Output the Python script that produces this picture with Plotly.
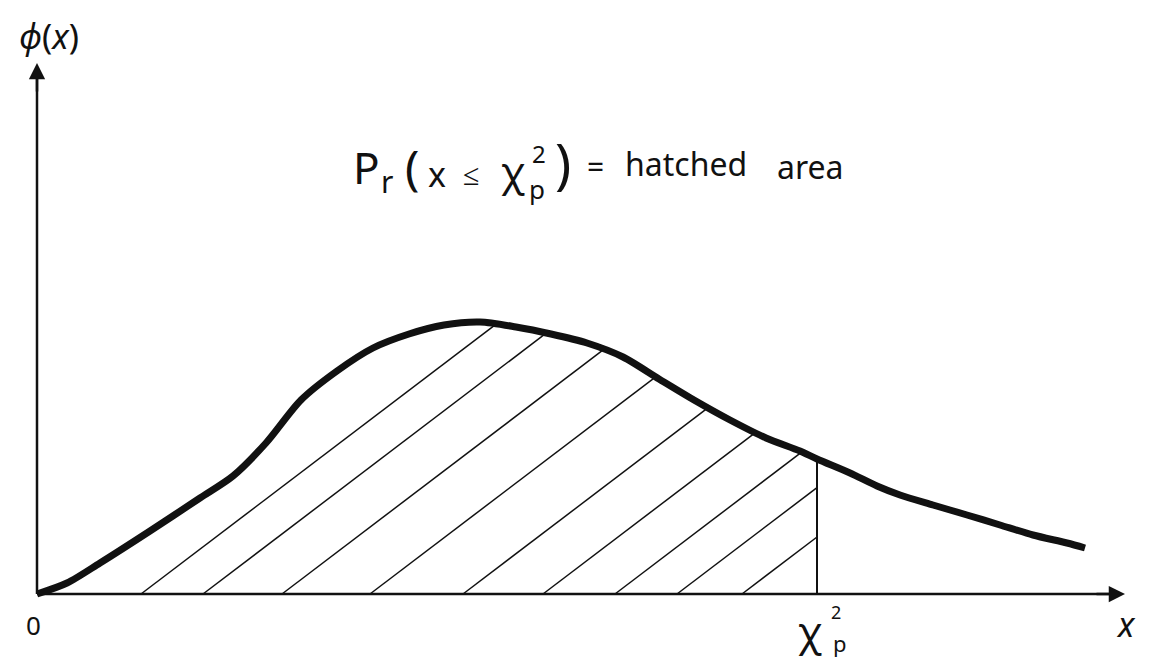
import numpy as np
import plotly.graph_objects as go

# curve phi(x) (arbitrary units)
curve_x = [0.00, 0.30, 0.63, 1.13, 1.63, 1.96, 2.29, 2.64, 3.00, 3.36, 3.72, 4.07, 4.43,
           4.79, 5.14, 5.50, 5.86, 6.22, 6.57, 6.93, 7.29, 7.63, 7.80, 8.13, 8.40, 8.63,
           8.96, 9.30, 9.63, 9.96, 10.30, 10.48]
curve_y = [0.00, 0.11, 0.31, 0.63, 0.96, 1.18, 1.51, 1.94, 2.23, 2.46, 2.60, 2.69, 2.72,
           2.67, 2.60, 2.51, 2.37, 2.15, 1.94, 1.74, 1.56, 1.43, 1.35, 1.21, 1.08, 0.99,
           0.89, 0.79, 0.69, 0.59, 0.51, 0.46]

chi2_p = 7.80
hatch_starts = [1.04, 1.66, 2.45, 3.33, 4.26, 5.06, 5.78, 6.40, 7.05]
hatch_slope = 0.76

x_axis_end = 10.88
y_axis_end = 5.31

ink = "#111111"
font = "Noto Sans"

# the page body has an 8px margin, so the figure is drawn 8px in from the corner
W, H = 1135, 653
PAD = 8
X0, Y0, SCALE = 37, 594, 100.0   # page pixel of the origin, pixels per unit


def at(px, py):
    return (px - X0) / SCALE, (Y0 - py) / SCALE


fig = go.Figure()

# hatch lines: from the baseline up to the curve, cut at chi2_p
xx = np.linspace(0, chi2_p, 4000)
yy = np.interp(xx, curve_x, curve_y)
hx, hy = [], []
for s in hatch_starts:
    line = hatch_slope * (xx - s)
    hit = np.where((xx > s) & (line >= yy))[0]
    xe = xx[hit[0]] if len(hit) else chi2_p
    hx += [s, xe, None]
    hy += [0, hatch_slope * (xe - s), None]
fig.add_trace(go.Scatter(x=hx, y=hy, mode="lines",
                         line=dict(color=ink, width=1.5), hoverinfo="skip"))

# vertical line at chi2_p
fig.add_trace(go.Scatter(x=[chi2_p, chi2_p], y=[0, float(np.interp(chi2_p, curve_x, curve_y))],
                         mode="lines", line=dict(color=ink, width=2), hoverinfo="skip"))

# axes
fig.add_trace(go.Scatter(x=[0, x_axis_end - 0.05], y=[0, 0], mode="lines",
                         line=dict(color=ink, width=2.5), hoverinfo="skip"))
fig.add_trace(go.Scatter(x=[0, 0], y=[0, y_axis_end - 0.05], mode="lines",
                         line=dict(color=ink, width=2.5), hoverinfo="skip"))

# the density curve
fig.add_trace(go.Scatter(x=curve_x, y=curve_y, mode="lines",
                         line=dict(color=ink, width=7, shape="spline", smoothing=0.8),
                         hoverinfo="skip"))

annotations = []
for tip, tail in [((x_axis_end, 0), (x_axis_end - 0.3, 0)),
                  ((0, y_axis_end), (0, y_axis_end - 0.3))]:
    annotations.append(dict(x=tip[0], y=tip[1], ax=tail[0], ay=tail[1], xref="x", yref="y",
                            axref="x", ayref="y", text="", showarrow=True, arrowhead=2,
                            arrowsize=1.3, arrowwidth=2.5, arrowcolor=ink))


def label(px, py, text, size):
    x, y = at(px, py)
    annotations.append(dict(x=x, y=y, xref="x", yref="y", text=text, showarrow=False,
                            xanchor="center", yanchor="middle",
                            font=dict(family=font, size=size, color=ink)))


# axis labels
label(49, 36, "<i>ϕ</i>(<i>x</i>)", 34)
label(33, 625, "0", 26)
label(1126, 624, "<i>x</i>", 34)
label(810, 630, "χ", 40)
label(836, 612, "2", 18)
label(840, 643, "p", 22)

# Pr(x <= chi2_p) = hatched area, written piece by piece like the sketch
label(366, 167, "P", 44)
label(387, 181, "r", 30)
label(412, 166, "(", 48)
label(437, 174, "x", 34)
label(471, 173, "≤", 30)
label(513, 170, "χ", 40)
label(539, 153, "2", 24)
label(537, 189, "p", 26)
label(563, 162, ")", 54)
label(595, 166, "=", 30)
label(686, 163, "hatched", 32)
label(810, 166, "area", 32)

fig.update_layout(
    width=W, height=H,
    margin=dict(l=0, r=0, t=0, b=0),
    plot_bgcolor="white", paper_bgcolor="white",
    showlegend=False,
    annotations=annotations,
    xaxis=dict(range=[at(PAD, 0)[0], at(PAD + W, 0)[0]], visible=False, fixedrange=True),
    yaxis=dict(range=[at(0, PAD + H)[1], at(0, PAD)[1]], visible=False, fixedrange=True),
)

fig.write_html("out.html")
